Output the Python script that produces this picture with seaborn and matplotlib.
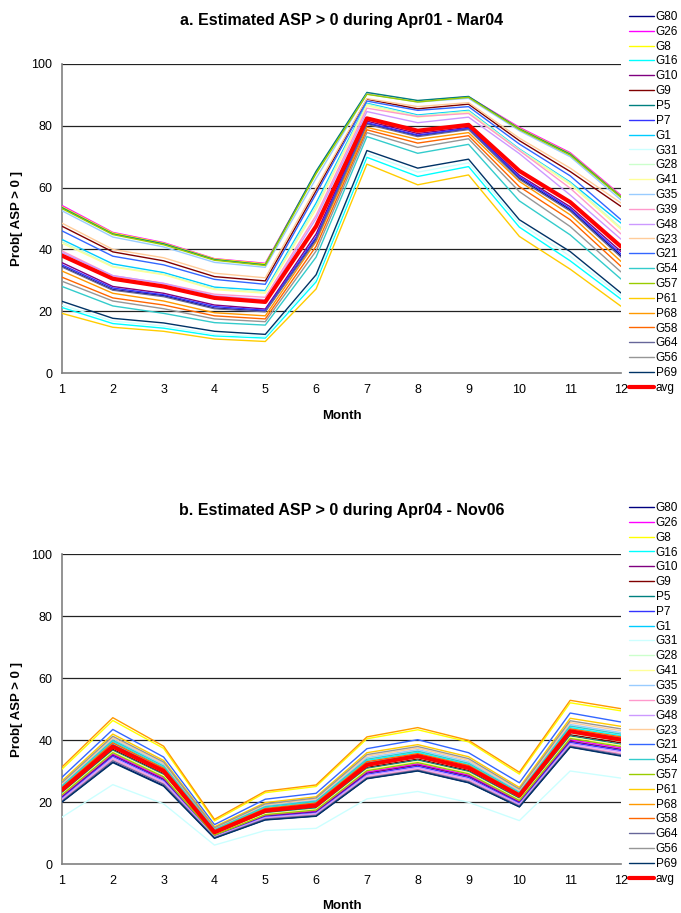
import numpy as np
import pandas as pd
import matplotlib
matplotlib.use("Agg")
import matplotlib.pyplot as plt
import seaborn as sns

sns.set_style("white")
plt.rcParams["font.family"] = ["Liberation Sans", "DejaVu Sans"]
plt.rcParams["text.color"] = "black"
plt.rcParams["axes.labelcolor"] = "black"

months = list(range(1, 13))

stations = ["G80", "G26", "G8", "G16", "G10", "G9", "P5", "P7", "G1", "G31",
            "G28", "G41", "G35", "G39", "G48", "G23", "G21", "G54", "G57",
            "P61", "P68", "G58", "G64", "G56", "P69"]

colors = {
    "G80": "#000080", "G26": "#FF00FF", "G8": "#FFFF00", "G16": "#00FFFF",
    "G10": "#800080", "G9": "#800000", "P5": "#008080", "P7": "#3333FF",
    "G1": "#00CCFF", "G31": "#CCFFFF", "G28": "#CCFFCC", "G41": "#FFFF99",
    "G35": "#99CCFF", "G39": "#FF99CC", "G48": "#CC99FF", "G23": "#FFCC99",
    "G21": "#3366FF", "G54": "#33CCCC", "G57": "#99CC00", "P61": "#FFCC00",
    "P68": "#FF9900", "G58": "#FF6600", "G64": "#666699", "G56": "#969696",
    "P69": "#003366", "avg": "#FF0000",
}

# Period a: Apr01 - Mar04
a_G80 = [34.5, 27.0, 25.0, 21.0, 20.0, 43.5, 80.7, 76.8, 79.0, 63.0, 52.8, 37.9]
a_G26 = [54.2, 45.5, 42.2, 37.0, 35.5, 65.0, 90.5, 88.0, 89.4, 79.5, 71.3, 57.5]
a_G8 = [53.8, 45.3, 42.0, 36.9, 35.3, 64.8, 90.3, 87.9, 89.3, 79.2, 71.0, 57.2]
a_G16 = [21.2, 16.0, 14.5, 12.0, 11.3, 29.5, 69.8, 63.6, 66.8, 47.2, 36.3, 23.9]
a_G10 = [35.7, 28.0, 25.8, 22.0, 20.7, 45.0, 81.5, 77.5, 79.5, 64.0, 53.8, 39.3]
a_G9 = [47.5, 39.2, 36.3, 31.2, 29.8, 59.0, 88.6, 85.5, 87.0, 75.2, 65.2, 53.9]
a_P5 = [53.5, 45.0, 41.8, 36.7, 35.0, 65.3, 90.8, 88.2, 89.5, 79.0, 70.8, 57.0]
a_P7 = [35.0, 27.5, 25.3, 21.5, 20.3, 44.0, 81.0, 77.0, 79.2, 63.5, 53.2, 38.5]
a_G1 = [43.2, 35.3, 32.5, 27.8, 26.7, 55.0, 87.3, 83.5, 85.0, 72.5, 61.8, 48.5]
a_G31 = [22.0, 16.8, 15.2, 12.5, 11.8, 30.5, 71.0, 65.0, 68.0, 48.5, 37.8, 25.0]
a_G28 = [42.5, 34.5, 32.0, 27.3, 26.2, 54.0, 87.0, 83.2, 84.7, 72.3, 61.5, 47.0]
a_G41 = [42.0, 34.3, 31.8, 27.0, 25.8, 53.0, 86.5, 82.8, 84.3, 72.0, 61.0, 46.5]
a_G35 = [52.5, 44.0, 40.8, 35.8, 34.2, 63.0, 90.3, 87.7, 88.9, 78.4, 70.0, 56.0]
a_G39 = [39.5, 31.5, 29.0, 25.5, 24.5, 51.0, 85.7, 83.0, 84.0, 72.0, 59.8, 45.0]
a_G48 = [39.0, 31.5, 29.0, 25.0, 23.7, 50.0, 84.6, 81.0, 82.8, 71.0, 57.6, 43.3]
a_G23 = [48.5, 40.0, 37.3, 32.3, 30.8, 60.0, 88.8, 86.2, 87.5, 76.0, 66.3, 55.0]
a_G21 = [46.0, 37.8, 35.0, 30.3, 28.7, 58.0, 88.0, 85.0, 86.2, 74.1, 63.8, 49.6]
a_G54 = [28.0, 21.7, 19.3, 16.3, 15.5, 37.5, 76.5, 71.1, 74.0, 55.7, 44.7, 30.4]
a_G57 = [53.2, 44.8, 41.5, 36.5, 34.8, 64.5, 90.2, 87.7, 89.2, 78.8, 70.5, 56.8]
a_P61 = [19.3, 14.8, 13.5, 11.0, 10.2, 27.2, 67.6, 60.9, 64.1, 44.2, 33.6, 21.6]
a_P68 = [33.0, 25.8, 23.3, 19.5, 18.5, 42.5, 79.5, 75.6, 77.8, 62.0, 51.2, 36.1]
a_G58 = [31.0, 24.3, 22.0, 18.5, 17.5, 41.0, 78.7, 74.4, 76.8, 60.3, 49.6, 34.5]
a_G64 = [34.3, 26.8, 24.7, 20.8, 19.8, 43.0, 80.5, 76.5, 78.8, 62.7, 52.4, 37.5]
a_G56 = [29.7, 23.3, 20.8, 17.5, 16.6, 39.5, 77.8, 73.0, 75.8, 58.7, 47.4, 32.7]
a_P69 = [23.2, 17.7, 16.2, 13.5, 12.5, 31.8, 72.0, 66.3, 69.2, 49.6, 39.3, 25.9]
a_avg = [38.0, 30.5, 28.0, 24.3, 23.0, 47.5, 82.4, 78.4, 80.3, 65.4, 55.3, 40.9]

# Period b: Apr04 - Nov06
b_G80 = [20.1, 32.9, 25.3, 8.4, 14.3, 15.5, 27.6, 30.1, 26.3, 18.5, 37.8, 35.0]
b_G26 = [21.9, 35.5, 27.7, 9.2, 15.7, 17.1, 29.7, 32.3, 28.7, 20.2, 40.1, 37.5]
b_G8 = [30.6, 46.3, 37.3, 13.9, 23.0, 25.0, 40.4, 43.3, 39.4, 29.0, 52.0, 49.4]
b_G16 = [24.9, 39.5, 31.2, 10.9, 18.2, 20.0, 33.4, 36.0, 32.1, 22.9, 44.0, 41.4]
b_G10 = [21.6, 35.1, 27.3, 9.0, 15.4, 16.8, 29.3, 31.9, 28.3, 19.9, 39.6, 37.0]
b_G9 = [23.2, 37.0, 29.2, 9.8, 16.7, 18.3, 31.2, 33.9, 30.2, 21.4, 41.7, 39.1]
b_P5 = [22.9, 36.6, 28.8, 9.6, 16.4, 18.0, 30.8, 33.5, 29.8, 21.1, 41.3, 38.6]
b_P7 = [21.3, 34.7, 26.9, 8.9, 15.2, 16.5, 28.9, 31.5, 27.9, 19.6, 39.2, 36.6]
b_G1 = [24.3, 38.6, 30.5, 10.5, 17.6, 19.4, 32.6, 35.2, 31.4, 22.4, 43.2, 40.6]
b_G31 = [15.1, 25.6, 19.4, 6.1, 10.8, 11.5, 21.0, 23.4, 19.9, 14.0, 30.0, 27.7]
b_G28 = [23.6, 37.5, 29.6, 10.0, 17.0, 18.6, 31.6, 34.3, 30.6, 21.7, 42.2, 39.6]
b_G41 = [22.6, 36.3, 28.5, 9.5, 16.2, 17.7, 30.5, 33.1, 29.5, 20.8, 40.9, 38.3]
b_G35 = [25.5, 40.3, 32.1, 11.3, 18.8, 20.6, 34.3, 36.9, 33.0, 23.5, 45.0, 42.4]
b_G39 = [20.6, 33.8, 26.1, 8.6, 14.7, 16.0, 28.1, 30.6, 27.0, 19.0, 38.3, 35.6]
b_G48 = [21.0, 34.3, 26.6, 8.8, 15.0, 16.3, 28.6, 31.1, 27.5, 19.3, 38.8, 36.2]
b_G23 = [25.9, 40.7, 32.5, 11.5, 19.1, 21.0, 34.8, 37.4, 33.5, 23.8, 45.6, 43.0]
b_G21 = [28.0, 43.4, 34.5, 12.7, 20.9, 22.8, 37.2, 40.1, 35.9, 26.2, 48.7, 45.8]
b_G54 = [25.2, 39.9, 31.6, 11.1, 18.5, 20.3, 33.8, 36.4, 32.5, 23.1, 44.5, 41.9]
b_G57 = [22.3, 35.9, 28.1, 9.3, 15.9, 17.4, 30.1, 32.7, 29.1, 20.5, 40.5, 37.9]
b_P61 = [26.8, 41.9, 33.4, 12.0, 19.8, 21.7, 35.9, 38.5, 34.6, 24.7, 47.0, 44.4]
b_P68 = [31.3, 47.2, 38.0, 14.4, 23.5, 25.5, 41.0, 44.0, 39.9, 29.6, 52.8, 50.1]
b_G58 = [24.6, 39.1, 30.9, 10.7, 17.9, 19.7, 33.0, 35.6, 31.8, 22.6, 43.6, 41.0]
b_G64 = [20.3, 33.3, 25.7, 8.5, 14.5, 15.7, 27.8, 30.3, 26.6, 18.7, 38.0, 35.2]
b_G56 = [26.3, 41.2, 32.9, 11.7, 19.4, 21.3, 35.3, 37.9, 34.0, 24.2, 46.2, 43.6]
b_P69 = [20.0, 32.7, 25.1, 8.3, 14.2, 15.4, 27.5, 30.0, 26.2, 18.4, 37.7, 34.8]
b_avg = [23.9, 37.9, 30.0, 10.2, 17.2, 18.9, 32.0, 34.8, 31.0, 22.1, 42.8, 40.1]

series_a = {name: globals()["a_" + name] for name in stations}
series_a["avg"] = a_avg
series_b = {name: globals()["b_" + name] for name in stations}
series_b["avg"] = b_avg

titles = ["a. Estimated ASP > 0 during Apr01 - Mar04",
          "b. Estimated ASP > 0 during Apr04 - Nov06"]
y_ticks = [0, 20, 40, 60, 80, 100]

W, H = 681, 913
fig = plt.figure(figsize=(W / 100, H / 100), dpi=100)


def px_axes(left, top, right, bottom):
    return fig.add_axes([left / W, 1 - bottom / H, (right - left) / W, (bottom - top) / H])


def draw_panel(ax, series, title, title_y, legend_top, xlabel_y):
    order = stations + ["avg"]
    long = pd.DataFrame(
        [(name, m, v) for name in order for m, v in zip(months, series[name])],
        columns=["Station", "Month", "Prob"],
    )
    for name in order:
        sub = long[long["Station"] == name]
        sns.lineplot(data=sub, x="Month", y="Prob", ax=ax, color=colors[name],
                     linewidth=3.0 if name == "avg" else 1.0, label=name,
                     zorder=4 if name == "avg" else 3)
    ax.set_xlim(1, 12)
    ax.set_ylim(0, 100)
    ax.set_xticks(months)
    ax.set_yticks(y_ticks)
    ax.tick_params(axis="both", labelsize=9, colors="black", length=4,
                   width=0.8, direction="out", pad=3)
    ax.tick_params(axis="x", pad=4)
    for v in y_ticks[1:]:
        ax.axhline(v, color="#222222", linewidth=0.9, zorder=1)
    for side in ("top", "right"):
        ax.spines[side].set_visible(False)
    for side in ("left", "bottom"):
        ax.spines[side].set_color("#808080")
        ax.spines[side].set_linewidth(1.2)
    ax.set_xlabel("Month", fontsize=9.5, fontweight="bold")
    ax.set_ylabel("Prob[ ASP > 0 ]", fontsize=9.5, fontweight="bold")
    ax.xaxis.label.set_va("center")
    ax.yaxis.label.set_va("center")
    bbox = ax.get_position()
    ax_h = bbox.height * H
    ax_bottom = (1 - bbox.y0) * H
    ax.xaxis.set_label_coords(0.5, (ax_bottom - xlabel_y) / ax_h)
    ax.yaxis.set_label_coords((17 - 62) / 559, 0.5)
    fig.text(342 / W, 1 - title_y / H, title, ha="center", va="center",
             fontsize=11.5, fontweight="bold", color="black")
    handles, labels = ax.get_legend_handles_labels()
    ax.legend(handles, labels, loc="upper left", frameon=False, fontsize=8.5,
              bbox_to_anchor=(629 / W, 1 - legend_top / H),
              bbox_transform=fig.transFigure, borderpad=0, borderaxespad=0,
              labelspacing=0.24, handlelength=2.1, handletextpad=0.15)


ax_a = px_axes(62, 64, 621, 373)
ax_b = px_axes(62, 554, 621, 864)
draw_panel(ax_a, series_a, titles[0], 20, 11, 416)
draw_panel(ax_b, series_b, titles[1], 511, 502, 906)

fig.savefig("out.png", dpi=100)
